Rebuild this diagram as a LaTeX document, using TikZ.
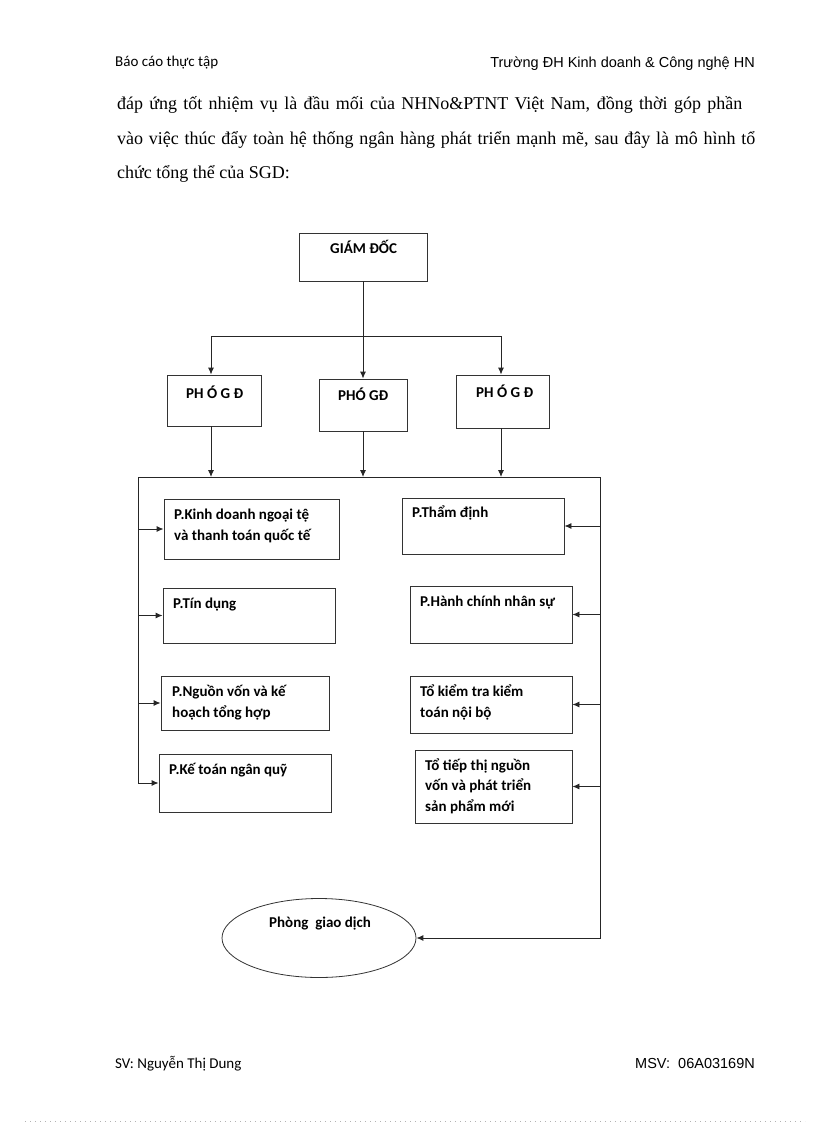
\documentclass[tikz,border=0pt]{standalone}
\usepackage{fontspec}
\setmainfont{Liberation Serif}
\newfontfamily\carl{Carlito}
\newfontfamily\arialf{Liberation Sans}
\usetikzlibrary{arrows.meta,shapes.geometric}
\newcommand\mlines[1]{\begin{tabular}[t]{@{}l@{}}#1\end{tabular}}
\begin{document}
\begin{tikzpicture}[x=1pt,y=-1pt,
  conn/.style={draw=black!85,line width=0.9pt},
  arr/.style={conn,-{Latex[length=7pt,width=6pt]}},
  box/.style={draw=black!80,line width=0.9pt,inner sep=0pt},
  oval/.style={draw=black!80,line width=0.8pt,ellipse,inner sep=0pt},
  lbl/.style={inner sep=0pt,anchor=base west,font=\carl\bfseries\fontsize{15}{21.5}\selectfont},
  body/.style={inner sep=0pt,anchor=base west,font=\fontsize{18}{22}\selectfont},
  hdr/.style={inner sep=0pt,font=\carl\fontsize{15}{18}\selectfont},
  hdra/.style={inner sep=0pt,font=\arialf\fontsize{14.5}{18}\selectfont}
]
\useasboundingbox[fill=white] (0,0) rectangle (816,1123);

% header / footer / body text
\node[hdr,anchor=base west] (h1) at (115,67) {Báo cáo thực tập};
\node[hdra,anchor=base east] (h2) at (755,68) {Trường ĐH Kinh doanh \& Công nghệ HN};
\node[body] (b1) at (117,110) {\makebox[625pt][s]{đáp ứng tốt nhiệm vụ là đầu mối của NHNo\&PTNT Việt Nam, đồng thời góp phần}};
\node[body] (b2) at (117,145) {\makebox[638pt][s]{vào việc thúc đẩy toàn hệ thống ngân hàng phát triển mạnh mẽ, sau đây là mô hình tổ}};
\node[body] (b3) at (117,179) {chức tổng thể của SGD:};
\node[hdr,anchor=base west] (f1) at (115,1068) {SV: Nguyễn Thị Dung};
\node[hdra,anchor=base east] (f2) at (755,1068) {MSV:\ \ 06A03169N};
\draw[black!30,line width=0.8pt,dash pattern=on 1pt off 4pt] (25,1121.5) coordinate (d1) -- (805,1121.5) coordinate (d2);

% boxes
\node[box,minimum width=128,minimum height=48] (gd) at (363,257) {};
\node[box,minimum width=94,minimum height=51] (p1) at (214,400.5) {};
\node[box,minimum width=88,minimum height=52] (p2) at (363,405) {};
\node[box,minimum width=93,minimum height=53] (p3) at (502.5,401.5) {};
\node[box,minimum width=175,minimum height=60] (l1) at (251.5,529) {};
\node[box,minimum width=172,minimum height=55] (l2) at (249,615.5) {};
\node[box,minimum width=168,minimum height=54] (l3) at (245,703) {};
\node[box,minimum width=172,minimum height=58] (l4) at (245,783) {};
\node[box,minimum width=162,minimum height=56] (r1) at (483,526) {};
\node[box,minimum width=162,minimum height=57] (r2) at (491,614.5) {};
\node[box,minimum width=162,minimum height=57] (r3) at (491,704.5) {};
\node[box,minimum width=157,minimum height=73] (r4) at (493.5,786.5) {};
\node[oval,minimum width=194,minimum height=79] (pgd) at (319,938) {};

% labels
\node[lbl] (tgd) at (330,253) {GIÁM ĐỐC};
\node[lbl] (tp1) at (186,398) {PH Ó G Đ};
\node[lbl] (tp2) at (338,400) {PHÓ GĐ};
\node[lbl] (tp3) at (476,397) {PH Ó G Đ};
\node[lbl] (tl1) at (174,519) {\mlines{P.Kinh doanh ngoại tệ\\và thanh toán quốc tế}};
\node[lbl] (tl2) at (173,608) {P.Tín dụng};
\node[lbl] (tl3) at (172,696) {\mlines{P.Nguồn vốn và kế\\hoạch tổng hợp}};
\node[lbl] (tl4) at (169,774) {P.Kế toán ngân quỹ};
\node[lbl] (tr1) at (412,517) {P.Thẩm định};
\node[lbl] (tr2) at (420,606) {P.Hành chính nhân sự};
\node[lbl] (tr3) at (420,696) {\mlines{Tổ kiểm tra kiểm\\toán nội bộ}};
\node[lbl,font=\carl\bfseries\fontsize{15}{20.5}\selectfont] (tr4) at (425,770) {\mlines{Tổ tiếp thị nguồn\\vốn và phát triển\\sản phẩm mới}};
\node[lbl] (tpgd) at (269,927) {Phòng\ \ giao dịch};

% connectors
\coordinate (hL) at (211,336);
\coordinate (hR) at (501,336);
\coordinate (bL) at (138,477);
\coordinate (bR) at (600,477);
\draw[conn] (hL) -- (hR);
\draw[arr] (gd.south) -- (gd.south |- p2.north);
\draw[arr] (hL) -- (hL |- p1.north);
\draw[arr] (hR) -- (hR |- p3.north);
\draw[conn] (bL) -- (bR);
\draw[arr] (hL |- p1.south) -- (hL |- bL);
\draw[arr] (p2.south) -- (p2.south |- bL);
\draw[arr] (hR |- p3.south) -- (hR |- bL);
\draw[arr] (bL) |- (l4.west);
\draw[arr] (bL |- l1.west) -- (l1.west);
\draw[arr] (bL |- l2.west) -- (l2.west);
\draw[arr] (bL |- l3.west) -- (l3.west);
\draw[arr] (bR) |- (pgd.east);
\draw[arr] (bR |- r1.east) -- (r1.east);
\draw[arr] (bR |- r2.east) -- (r2.east);
\draw[arr] (bR |- r3.east) -- (r3.east);
\draw[arr] (bR |- r4.east) -- (r4.east);
\end{tikzpicture}
\end{document}
